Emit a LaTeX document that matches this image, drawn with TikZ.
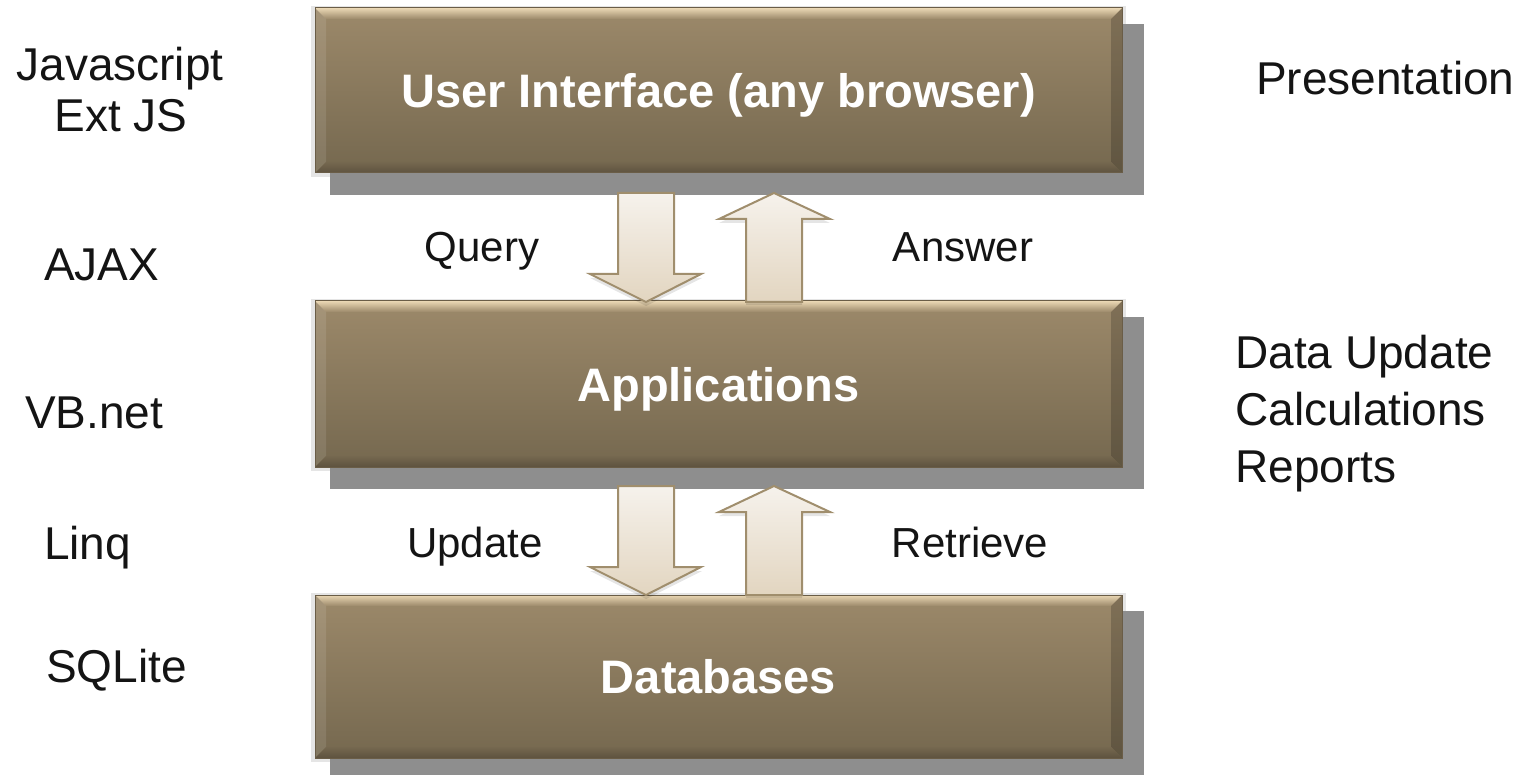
\documentclass[tikz,border=0pt]{standalone}
\usepackage{fontspec}
\setmainfont{Liberation Sans}
\definecolor{boxtop}{HTML}{9C896A}
\definecolor{boxbot}{HTML}{75684F}
\definecolor{bevlight}{HTML}{EAD7B4}
\definecolor{bevdark}{HTML}{5E523F}
\definecolor{boxedge}{HTML}{6A5D47}
\definecolor{shadowgray}{HTML}{8E8E8E}
\definecolor{arrtop}{HTML}{F6F2EC}
\definecolor{arrbot}{HTML}{E2D5C0}
\definecolor{arredge}{HTML}{A08E6D}
\definecolor{labelink}{HTML}{141414}
\tikzset{
  sidelabel/.style={inner sep=0pt, font=\fontsize{46}{52}\selectfont, text=labelink},
  arrowlabel/.style={inner sep=0pt, font=\fontsize{42}{48}\selectfont, text=labelink, anchor=base},
  boxlabel/.style={inner sep=0pt, font=\fontsize{47}{54}\selectfont\bfseries, text=white, anchor=base},
  blockarrow/.style={draw=arredge, line width=2pt, top color=arrtop, bottom color=arrbot, line join=miter},
  arrowshadow/.style={fill=black, opacity=0.10},
}
\newcommand\tierbox[4]{%
  \fill[black, opacity=0.10] (311,#2-2) rectangle (1126,#3+4);
  \fill[shadowgray] (330,#2+16) rectangle (1144,#3+22);
  \shade[top color=boxtop, bottom color=boxbot] (315,#2) rectangle (1122,#3);
  \shade[top color=bevlight, bottom color=boxtop] (315,#2) -- (1122,#2) -- (1111,#2+11) -- (326,#2+11) -- cycle;
  \fill[white, opacity=0.10] (315,#2) -- (326,#2+11) -- (326,#3-11) -- (315,#3) -- cycle;
  \fill[black, opacity=0.18] (1122,#2) -- (1111,#2+11) -- (1111,#3-11) -- (1122,#3) -- cycle;
  \shade[top color=boxbot, bottom color=bevdark] (315,#3) -- (326,#3-11) -- (1111,#3-11) -- (1122,#3) -- cycle;
  \draw[boxedge, line width=1pt] (315,#2) rectangle (1122,#3);
  \node[boxlabel] (#1) at (718.5,{(#2+#3)/2+17}) {#4};
}
\newcommand\downblock[3]{% x-center, top, bottom
  \fill[arrowshadow] (#1-56,#3-28+4) -- (#1-28,#3-28+4) -- (#1-28,#2+4) -- (#1+28,#2+4) -- (#1+28,#3-28+4) -- (#1+56,#3-28+4) -- (#1,#3+4) -- cycle;
  \path[blockarrow] (#1-28,#2) -- (#1+28,#2) -- (#1+28,#3-28) -- (#1+55,#3-28) -- (#1,#3) -- (#1-56,#3-28) -- (#1-28,#3-28) -- cycle;
}
\newcommand\upblock[3]{% x-center, top, bottom
  \fill[arrowshadow] (#1-28,#3+3) -- (#1+28,#3+3) -- (#1+28,#2+26+4) -- (#1+56,#2+26+4) -- (#1,#2+4) -- (#1-55,#2+26+4) -- (#1-28,#2+26+4) -- cycle;
  \path[blockarrow] (#1-28,#3) -- (#1+28,#3) -- (#1+28,#2+26) -- (#1+56,#2+26) -- (#1,#2) -- (#1-55,#2+26) -- (#1-28,#2+26) -- cycle;
}
\begin{document}
\begin{tikzpicture}[x=1pt, y=-1pt]
  \useasboundingbox (0,0) rectangle (1530,775);
  \fill[white] (0,0) rectangle (1530,775);

  \tierbox{ui}{8}{173}{User Interface (any browser)}
  \tierbox{app}{301}{467}{Applications}
  \tierbox{db}{595}{758}{Databases}

  \downblock{646}{193}{302}
  \upblock{774}{193}{302}
  \downblock{646}{486}{595}
  \upblock{774}{486}{595}

  \node[sidelabel, anchor=base] (js) at (120,81) {Javascript};
  \node[sidelabel, anchor=base] (ext) at (121,132) {Ext JS};
  \node[sidelabel, anchor=base west] (ajax) at (44,281) {AJAX};
  \node[sidelabel, anchor=base west] (vb) at (25,428) {VB.net};
  \node[sidelabel, anchor=base west] (linq) at (44,559) {Linq};
  \node[sidelabel, anchor=base west] (sql) at (46,682) {SQLite};

  \node[sidelabel, anchor=base west] (pres) at (1256,95) {Presentation};
  \node[sidelabel, anchor=base west] (du) at (1235,368) {Data Update};
  \node[sidelabel, anchor=base west] (calc) at (1235,425) {Calculations};
  \node[sidelabel, anchor=base west] (rep) at (1235,482) {Reports};

  \node[arrowlabel] (query) at (482,262) {Query};
  \node[arrowlabel] (answer) at (963,262) {Answer};
  \node[arrowlabel] (update) at (475,557) {Update};
  \node[arrowlabel] (retrieve) at (970,557) {Retrieve};
\end{tikzpicture}
\end{document}
